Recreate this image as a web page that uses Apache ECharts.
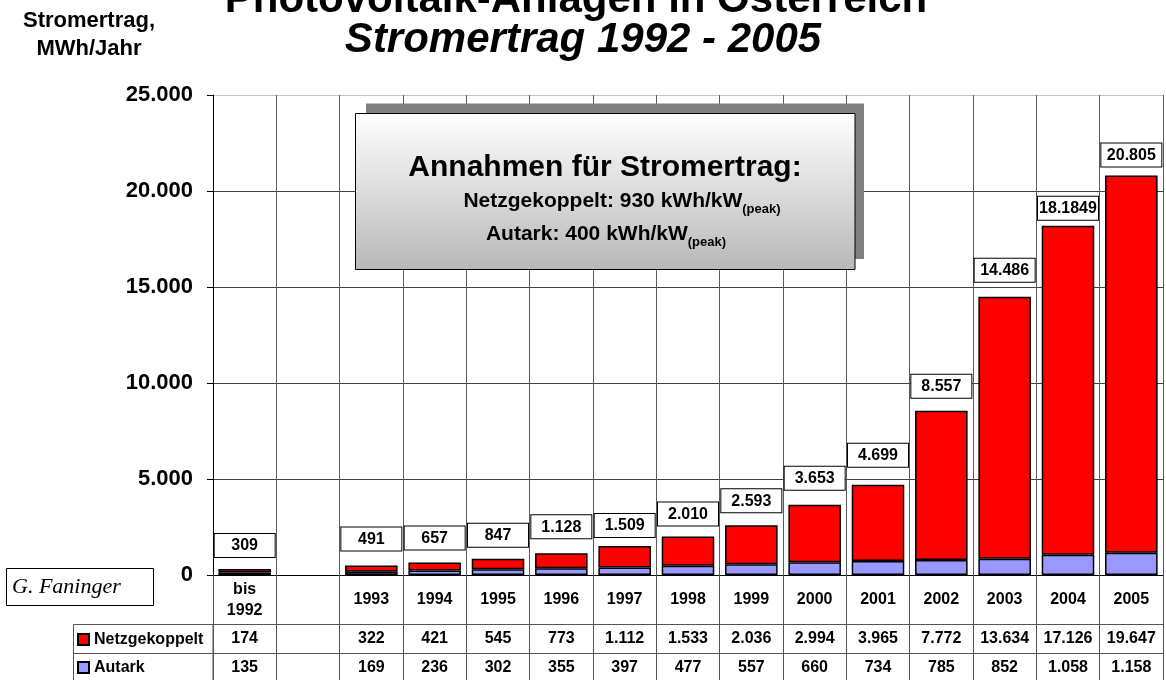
<!DOCTYPE html>
<html>
<head>
<meta charset="utf-8">
<script src="https://cdn.jsdelivr.net/npm/echarts@6/dist/echarts.min.js"></script>
<style>
  html, body { margin: 0; padding: 0; background: #ffffff; }
  #chart { width: 1166px; height: 680px; }
</style>
</head>
<body>
<div id="chart"></div>
<script>
// Photovoltaic yield in Austria, MWh per year, split by grid-connected and stand-alone systems
const categories = ['bis\n1992', '', '1993', '1994', '1995', '1996', '1997', '1998', '1999', '2000', '2001', '2002', '2003', '2004', '2005'];
const netzgekoppelt = [174, null, 322, 421, 545, 773, 1112, 1533, 2036, 2994, 3965, 7772, 13634, 17126, 19647];
const autark = [135, null, 169, 236, 302, 355, 397, 477, 557, 660, 734, 785, 852, 1058, 1158];
const totalLabels = ['309', '', '491', '657', '847', '1.128', '1.509', '2.010', '2.593', '3.653', '4.699', '8.557', '14.486', '18.1849', '20.805'];
const yMin = 0, yMax = 25000, yStep = 5000;

// spacing (px) between each boxed total and the top of its bar
const labelGap = [12, 0, 15, 13, 12, 15, 9, 11, 13, 15, 18, 13, 15, 6, 9];

const FONT = '"Liberation Sans", Arial, Helvetica, sans-serif';

function fmt(v) {
  if (v === null || v === undefined) return '';
  return String(v).replace(/\B(?=(\d{3})+(?!\d))/g, '.');
}

const boldText = { fontFamily: FONT, fontWeight: 'bold', color: '#000' };

const chart = echarts.init(document.getElementById('chart'), null, { renderer: 'canvas' });

const tableAxis = (offset, values, tickLen, margin) => ({
  type: 'category',
  data: categories,
  position: 'bottom',
  offset: offset,
  boundaryGap: true,
  axisLine: { show: true, lineStyle: { color: '#555', width: 1 } },
  axisTick: { show: true, interval: 0, length: tickLen, lineStyle: { color: '#555', width: 1 } },
  axisLabel: {
    interval: 0, margin: margin, verticalAlign: 'middle',
    fontSize: 16, ...boldText,
    formatter: (v, i) => fmt(values[i])
  },
  splitLine: { show: false }
});

const subStyle = { fontSize: 13, fontWeight: 'bold', fontFamily: FONT, fill: '#000', lineHeight: 13, verticalAlign: 'bottom' };

const option = {
  animation: false,
  backgroundColor: '#ffffff',
  title: [
    {
      text: 'Photovoltaik-Anlagen in Österreich',
      left: 576, top: -21, textAlign: 'center', padding: 0,
      textStyle: { fontSize: 42, lineHeight: 42, ...boldText }
    },
    {
      text: 'Stromertrag 1992 - 2005',
      left: 583, top: 19, textAlign: 'center', padding: 0,
      textStyle: { fontSize: 42, lineHeight: 42, fontStyle: 'italic', ...boldText }
    },
    {
      text: 'Stromertrag,\nMWh/Jahr',
      left: 89, top: 7, textAlign: 'center', padding: 0,
      textStyle: { fontSize: 22, lineHeight: 28, ...boldText }
    }
  ],
  legend: [
    {
      data: ['Netzgekoppelt'], left: 77, top: 630.5, padding: 0, icon: 'rect',
      itemWidth: 11, itemHeight: 11, selectedMode: false,
      textStyle: { fontSize: 16, lineHeight: 18, ...boldText }
    },
    {
      data: ['Autark'], left: 77, top: 658.5, padding: 0, icon: 'rect',
      itemWidth: 11, itemHeight: 11, selectedMode: false,
      textStyle: { fontSize: 16, lineHeight: 18, ...boldText }
    }
  ],
  grid: { left: 213, right: 3, top: 95, bottom: 105, containLabel: false, outerBoundsMode: 'none' },
  xAxis: [
    {
      type: 'category',
      data: categories,
      position: 'bottom',
      boundaryGap: true,
      axisLine: { show: true, lineStyle: { color: '#000', width: 1 } },
      axisTick: { show: true, interval: 0, length: 49, lineStyle: { color: '#555', width: 1 } },
      axisLabel: {
        interval: 0, margin: 25, verticalAlign: 'middle',
        fontSize: 16, lineHeight: 21, ...boldText
      },
      splitLine: { show: true, interval: 0, lineStyle: { color: '#5a5a5a', width: 1 } }
    },
    tableAxis(49, netzgekoppelt, 29, 15),
    tableAxis(78, autark, 30, 15)
  ],
  yAxis: {
    type: 'value',
    min: yMin, max: yMax, interval: yStep,
    axisLine: { show: true, lineStyle: { color: '#000', width: 1 } },
    axisTick: { show: true, length: 6, lineStyle: { color: '#000' } },
    axisLabel: { formatter: fmt, margin: 20, fontSize: 22, ...boldText },
    splitLine: {
      show: true,
      lineStyle: { color: ['#404040', '#404040', '#404040', '#404040', '#404040', '#c4c4c4'], width: 1 }
    }
  },
  series: [
    {
      name: 'Autark',
      type: 'bar',
      stack: 'ertrag',
      barWidth: '83%',
      data: autark,
      itemStyle: { color: '#9999ff', borderColor: '#000', borderWidth: 1.5 }
    },
    {
      name: 'Netzgekoppelt',
      type: 'bar',
      stack: 'ertrag',
      barWidth: '83%',
      data: netzgekoppelt.map((v, i) => ({ value: v, label: { distance: labelGap[i] } })),
      itemStyle: { color: '#ff0000', borderColor: '#000', borderWidth: 1.5 },
      label: {
        show: true,
        position: 'top',
        formatter: p => totalLabels[p.dataIndex],
        fontSize: 16, lineHeight: 18, ...boldText,
        backgroundColor: '#ffffff',
        borderColor: '#000', borderWidth: 1,
        width: 48, align: 'center',
        padding: [3, 6, 2, 6]
      }
    }
  ],
  graphic: [
    // assumptions box with drop shadow
    {
      type: 'rect', z: 20,
      shape: { x: 366, y: 103.5, width: 498, height: 155.5 },
      style: { fill: '#808080' }
    },
    {
      type: 'rect', z: 21,
      shape: { x: 355.5, y: 113.5, width: 499.5, height: 156 },
      style: {
        fill: new echarts.graphic.LinearGradient(0, 0, 0, 1, [
          { offset: 0, color: '#ffffff' },
          { offset: 1, color: '#b8b8b8' }
        ]),
        stroke: '#000', lineWidth: 1
      }
    },
    {
      type: 'text', z: 22, x: 605, y: 168,
      style: {
        text: 'Annahmen für Stromertrag:',
        fontSize: 30, fontWeight: 'bold', fontFamily: FONT, fill: '#000',
        align: 'center', verticalAlign: 'middle'
      }
    },
    {
      type: 'text', z: 22, x: 622, y: 201,
      style: {
        text: 'Netzgekoppelt: 930 kWh/kW{sub|(peak)}',
        fontSize: 21, fontWeight: 'bold', fontFamily: FONT, fill: '#000', lineHeight: 30,
        align: 'center', verticalAlign: 'middle',
        rich: { sub: subStyle }
      }
    },
    {
      type: 'text', z: 22, x: 606, y: 234,
      style: {
        text: 'Autark: 400 kWh/kW{sub|(peak)}',
        fontSize: 21, fontWeight: 'bold', fontFamily: FONT, fill: '#000', lineHeight: 30,
        align: 'center', verticalAlign: 'middle',
        rich: { sub: subStyle }
      }
    },
    // author tag
    {
      type: 'rect', z: 20,
      shape: { x: 6.5, y: 568.5, width: 147, height: 37 },
      style: { fill: '#ffffff', stroke: '#000', lineWidth: 1 }
    },
    {
      type: 'text', z: 21, x: 12, y: 587,
      style: {
        text: 'G. Faninger',
        fontSize: 22, fontStyle: 'italic', fontFamily: '"Liberation Serif", "DejaVu Serif", serif', fill: '#000',
        align: 'left', verticalAlign: 'middle'
      }
    },
    // left frame of the data table around the legend keys
    {
      type: 'rect', z: 5,
      shape: { x: 73.5, y: 624.5, width: 139.5, height: 62 },
      style: { fill: 'none', stroke: '#555', lineWidth: 1 }
    },
    {
      type: 'line', z: 5,
      shape: { x1: 73.5, y1: 653.5, x2: 213, y2: 653.5 },
      style: { stroke: '#555', lineWidth: 1 }
    }
  ]
};

chart.setOption(option);
</script>
</body>
</html>
